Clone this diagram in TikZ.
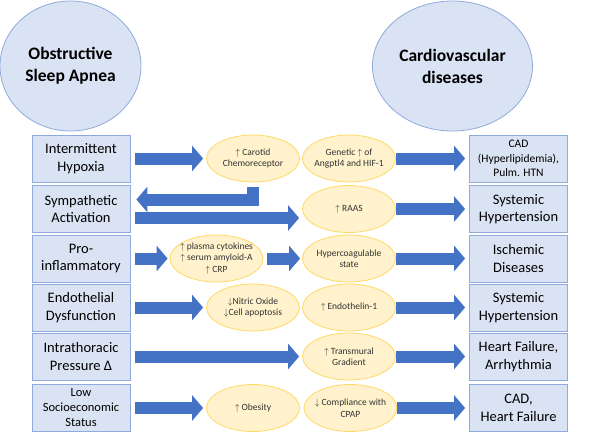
\documentclass[tikz,border=0pt]{standalone}
\usepackage{fontspec}
\setmainfont{Carlito}
\usetikzlibrary{arrows.meta,shapes.geometric}
\definecolor{boxblue}{HTML}{DAE3F3}
\definecolor{lineblue}{HTML}{8FAADC}
\definecolor{arrowblue}{HTML}{4472C4}
\definecolor{causefill}{HTML}{FFF2CC}
\definecolor{causeline}{HTML}{FFD966}

\begin{document}
\begin{tikzpicture}[x=1pt,y=-1pt,
  Disease/.style={ellipse,draw=lineblue,fill=boxblue,line width=0.8pt,
    minimum width=141pt,minimum height=130pt,align=center,
    font=\fontsize{17.5}{22}\selectfont\bfseries},
  Box/.style={draw=lineblue,fill=boxblue,line width=0.8pt,minimum width=98pt,
    minimum height=47pt,inner sep=1pt,align=center,
    font=\fontsize{14.5}{17.5}\selectfont},
  Cause/.style={ellipse,draw=causeline,fill=causefill,line width=0.8pt,
    minimum width=93pt,minimum height=47pt,inner xsep=-7pt,inner ysep=0pt,
    align=center,text=black!80,font=\fontsize{9.5}{11.5}\selectfont},
  Pipe/.style={draw=arrowblue,line width=12pt,
    -{Triangle[length=11pt,width=25pt]},shorten <=5pt,shorten >=3pt}]
  \useasboundingbox (0,0) rectangle (600,434);

  \node[Disease] (osa) at (70.5,66) {Obstructive\\Sleep Apnea};
  \node[Disease] (cvd) at (452.5,66) {Cardiovascular\\diseases};

  \node[Box] (hyp)  at (81,158.5) {Intermittent\\Hypoxia};
  \node[Box] (symp) at (81,209)   {Sympathetic\\Activation};
  \node[Box] (infl) at (81,258.5) {Pro-\\inflammatory};
  \node[Box] (endo) at (81,307.5) {Endothelial\\Dysfunction};
  \node[Box] (itp)  at (81,356.5) {Intrathoracic\\Pressure Δ};
  \node[Box,font=\fontsize{12.5}{15}\selectfont] (ses) at (81,408) {Low\\Socioeconomic\\Status};

  \node[Cause] (carot) at (253,158.5) {$\uparrow$ Carotid\\Chemoreceptor};
  \node[Cause] (cyto)  at (216.5,258.5) {$\uparrow$ plasma cytokines\\$\uparrow$ serum amyloid-A\\$\uparrow$ CRP};
  \node[Cause] (no)    at (253,307.5) {$\downarrow$Nitric Oxide\\$\downarrow$Cell apoptosis};
  \node[Cause] (obes)  at (253,408) {$\uparrow$ Obesity};

  \node[Cause] (angpt) at (349,158.5) {Genetic $\uparrow$ of\\Angptl4 and HIF-1};
  \node[Cause] (raas)  at (349,209) {$\uparrow$ RAAS};
  \node[Cause] (hyper) at (349,258.5) {Hypercoagulable\\state};
  \node[Cause] (et)    at (349,307.5) {$\uparrow$ Endothelin-1};
  \node[Cause] (tmg)   at (349,356.5) {$\uparrow$ Transmural\\Gradient};
  \node[Cause] (cpap)  at (350.5,408) {$\downarrow$ Compliance with\\CPAP};

  \node[Box,font=\fontsize{11.5}{14.5}\selectfont] (cad) at (518.5,158.5) {CAD\\(Hyperlipidemia),\\Pulm. HTN};
  \node[Box] (sht1)  at (518.5,209)   {Systemic\\Hypertension};
  \node[Box] (isch)  at (518.5,258.5) {Ischemic\\Diseases};
  \node[Box] (sht2)  at (518.5,307.5) {Systemic\\Hypertension};
  \node[Box] (hf)    at (518.5,356.5) {Heart Failure,\\Arrhythmia};
  \node[Box] (cadhf) at (518.5,408)   {CAD,\\Heart Failure};

  \draw[Pipe] (hyp.east) -- (carot.west);
  \draw[Pipe,shorten <=0pt,shorten >=4pt] (angpt.east) -- (cad.west);
  \draw[Pipe,shorten >=6pt] (carot.south) |- ([yshift=9.5pt]symp.east);
  \draw[Pipe] ([yshift=-9pt]symp.east) -- ([yshift=-9pt]raas.west);
  \draw[Pipe,shorten <=0pt,shorten >=4pt] (raas.east) -- (sht1.west);
  \draw[Pipe,shorten >=2pt] (infl.east) -- (cyto.west);
  \draw[Pipe,shorten <=4pt,shorten >=2pt] (cyto.east) -- (hyper.west);
  \draw[Pipe,shorten <=0pt,shorten >=4pt] (hyper.east) -- (isch.west);
  \draw[Pipe] (endo.east) -- (no.west);
  \draw[Pipe,shorten <=0pt,shorten >=4pt] (et.east) -- (sht2.west);
  \draw[Pipe] (itp.east) -- (tmg.west);
  \draw[Pipe,shorten <=0pt,shorten >=4pt] (tmg.east) -- (hf.west);
  \draw[Pipe] (ses.east) -- (obes.west);
  \draw[Pipe,shorten <=0pt,shorten >=4pt] (cpap.east) -- (cadhf.west);
\end{tikzpicture}
\end{document}
